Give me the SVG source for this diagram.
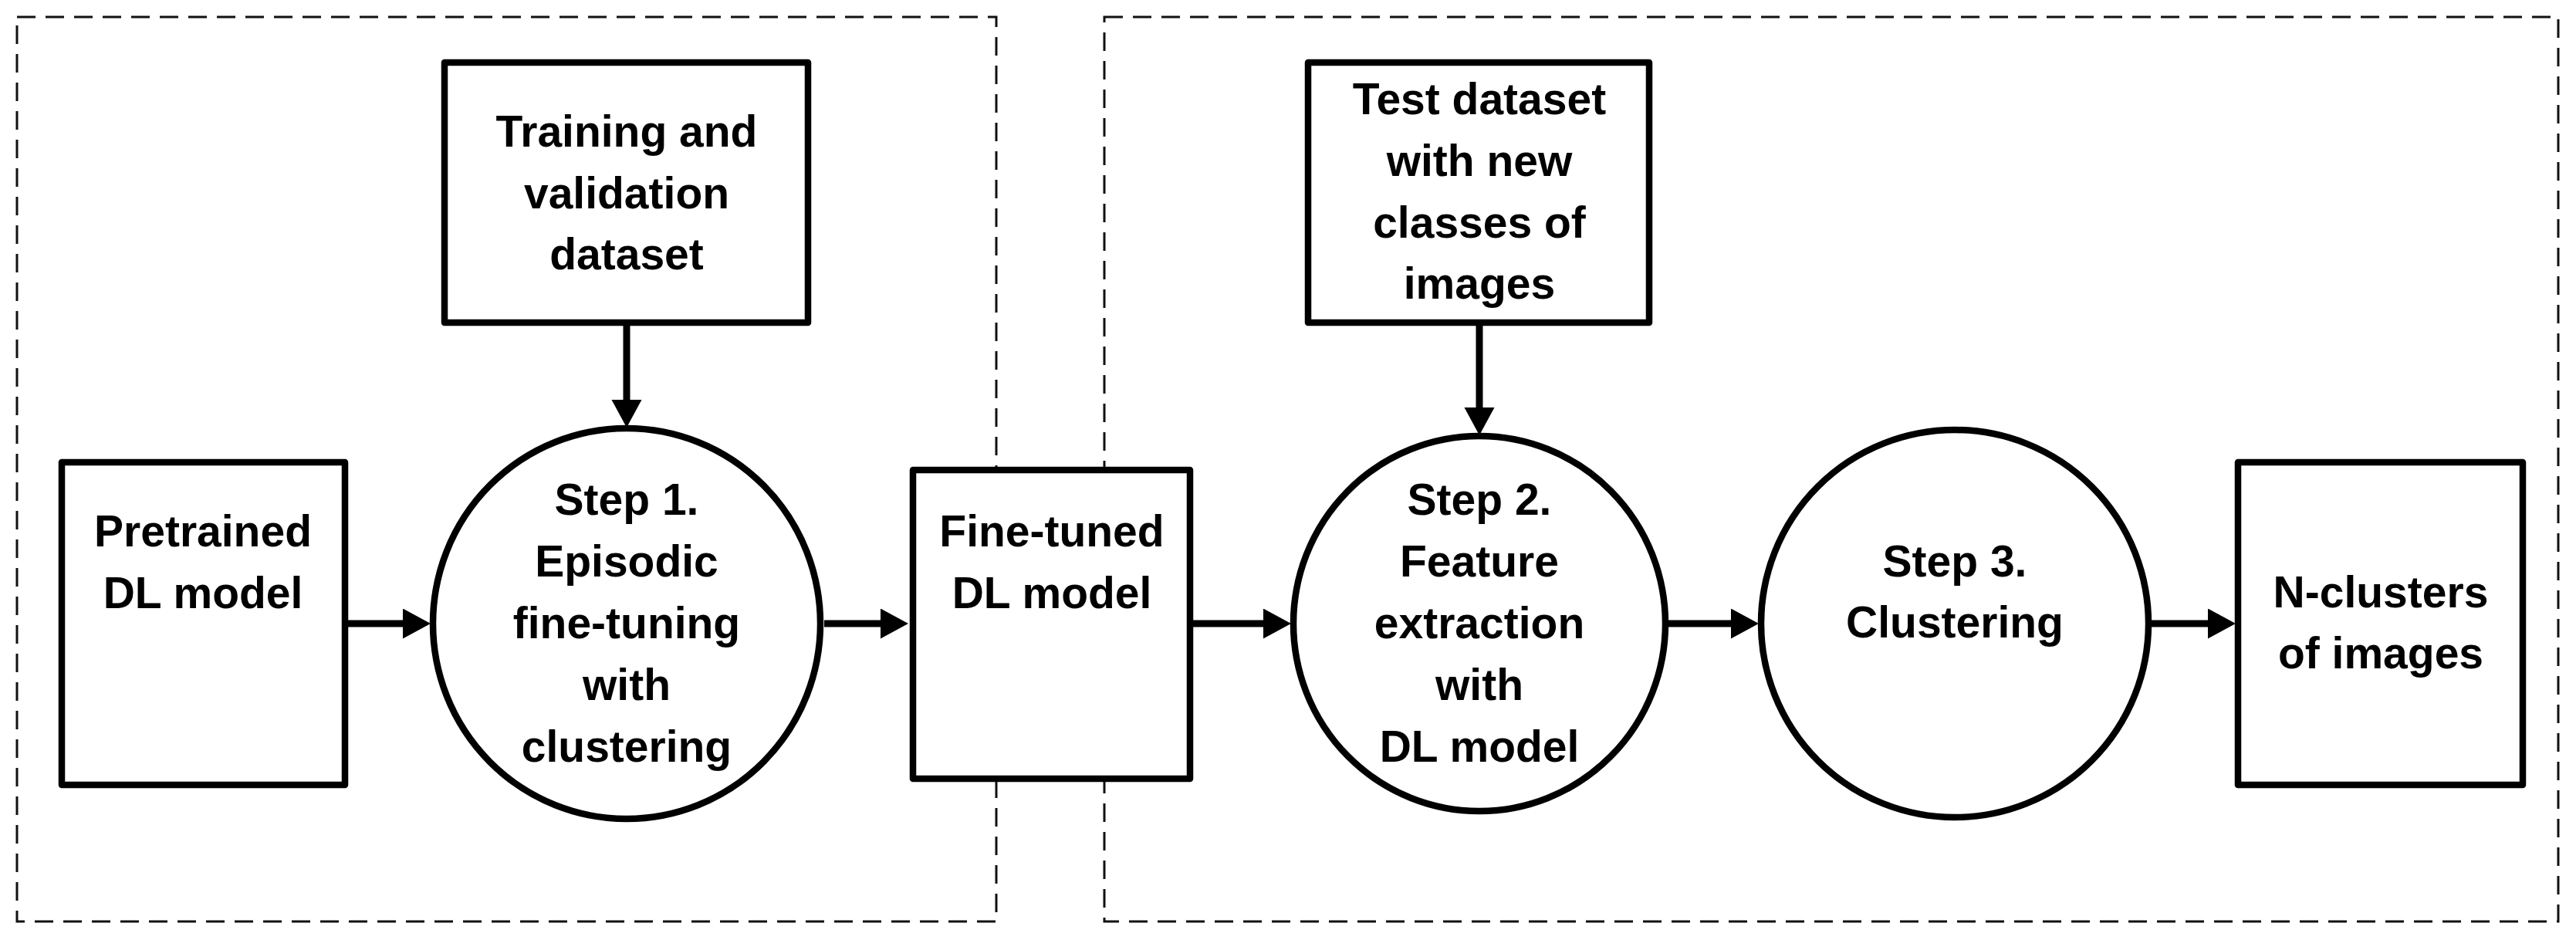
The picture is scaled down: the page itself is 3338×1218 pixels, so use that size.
<svg xmlns="http://www.w3.org/2000/svg" width="3338" height="1218" viewBox="0 0 3338 1218">
<style>
.bg{fill:#fff}
.frame{fill:none;stroke:#111;stroke-width:3;stroke-dasharray:24 13}
.box{fill:#fff;stroke:#000;stroke-width:8.5;stroke-linejoin:round}
.oval{fill:#fff;stroke:#000;stroke-width:8.5}
.lbl{font-family:"Liberation Sans",Arial,sans-serif;font-weight:bold;font-size:57px;fill:#000;text-anchor:middle}
.conn{fill:none;stroke:#000;stroke-width:9}
</style>
<defs>
<marker id="ah" markerUnits="userSpaceOnUse" markerWidth="37" markerHeight="40" refX="0" refY="19.5" orient="auto">
<path d="M0,0 L36,19.5 L0,39 Z" fill="#000"/>
</marker>
</defs>
<rect class="bg" x="0" y="0" width="3338" height="1218"/>
<g id="frames">
<rect class="frame" x="22" y="22" width="1269" height="1172"/>
<rect class="frame" x="1431" y="22" width="1884" height="1172"/>
</g>
<g id="connectors">
<line class="conn" x1="449" y1="808" x2="522" y2="808" marker-end="url(#ah)"/>
<line class="conn" x1="812" y1="422" x2="812" y2="518" marker-end="url(#ah)"/>
<line class="conn" x1="1068" y1="808" x2="1141" y2="808" marker-end="url(#ah)"/>
<line class="conn" x1="1546" y1="808" x2="1637" y2="808" marker-end="url(#ah)"/>
<line class="conn" x1="1917" y1="422" x2="1917" y2="528" marker-end="url(#ah)"/>
<line class="conn" x1="2162" y1="808" x2="2243" y2="808" marker-end="url(#ah)"/>
<line class="conn" x1="2788" y1="808" x2="2861" y2="808" marker-end="url(#ah)"/>
</g>
<g id="pretrained">
<rect class="box" x="80" y="599" width="367" height="418"/>
<text class="lbl" x="263" y="708">Pretrained</text>
<text class="lbl" x="263" y="788">DL model</text>
</g>
<g id="training">
<rect class="box" x="576" y="81" width="471" height="337"/>
<text class="lbl" x="812" y="190">Training and</text>
<text class="lbl" x="812" y="270">validation</text>
<text class="lbl" x="812" y="349">dataset</text>
</g>
<g id="step1">
<ellipse class="oval" cx="812" cy="808" rx="251" ry="253"/>
<text class="lbl" x="812" y="667">Step 1.</text>
<text class="lbl" x="812" y="747">Episodic</text>
<text class="lbl" x="812" y="827">fine-tuning</text>
<text class="lbl" x="812" y="907">with</text>
<text class="lbl" x="812" y="987">clustering</text>
</g>
<g id="finetuned">
<rect class="box" x="1183" y="609" width="359" height="400"/>
<text class="lbl" x="1363" y="708">Fine-tuned</text>
<text class="lbl" x="1363" y="788">DL model</text>
</g>
<g id="testdata">
<rect class="box" x="1695" y="81" width="442" height="337"/>
<text class="lbl" x="1917" y="148">Test dataset</text>
<text class="lbl" x="1917" y="228">with new</text>
<text class="lbl" x="1917" y="308">classes of</text>
<text class="lbl" x="1917" y="387">images</text>
</g>
<g id="step2">
<ellipse class="oval" cx="1917" cy="808" rx="241" ry="243"/>
<text class="lbl" x="1917" y="667">Step 2.</text>
<text class="lbl" x="1917" y="747">Feature</text>
<text class="lbl" x="1917" y="827">extraction</text>
<text class="lbl" x="1917" y="907">with</text>
<text class="lbl" x="1917" y="987">DL model</text>
</g>
<g id="step3">
<ellipse class="oval" cx="2533" cy="808" rx="251" ry="251"/>
<text class="lbl" x="2533" y="747">Step 3.</text>
<text class="lbl" x="2533" y="826">Clustering</text>
</g>
<g id="nclusters">
<rect class="box" x="2900" y="599" width="369" height="418"/>
<text class="lbl" x="3085" y="787">N-clusters</text>
<text class="lbl" x="3085" y="866">of images</text>
</g>
</svg>
